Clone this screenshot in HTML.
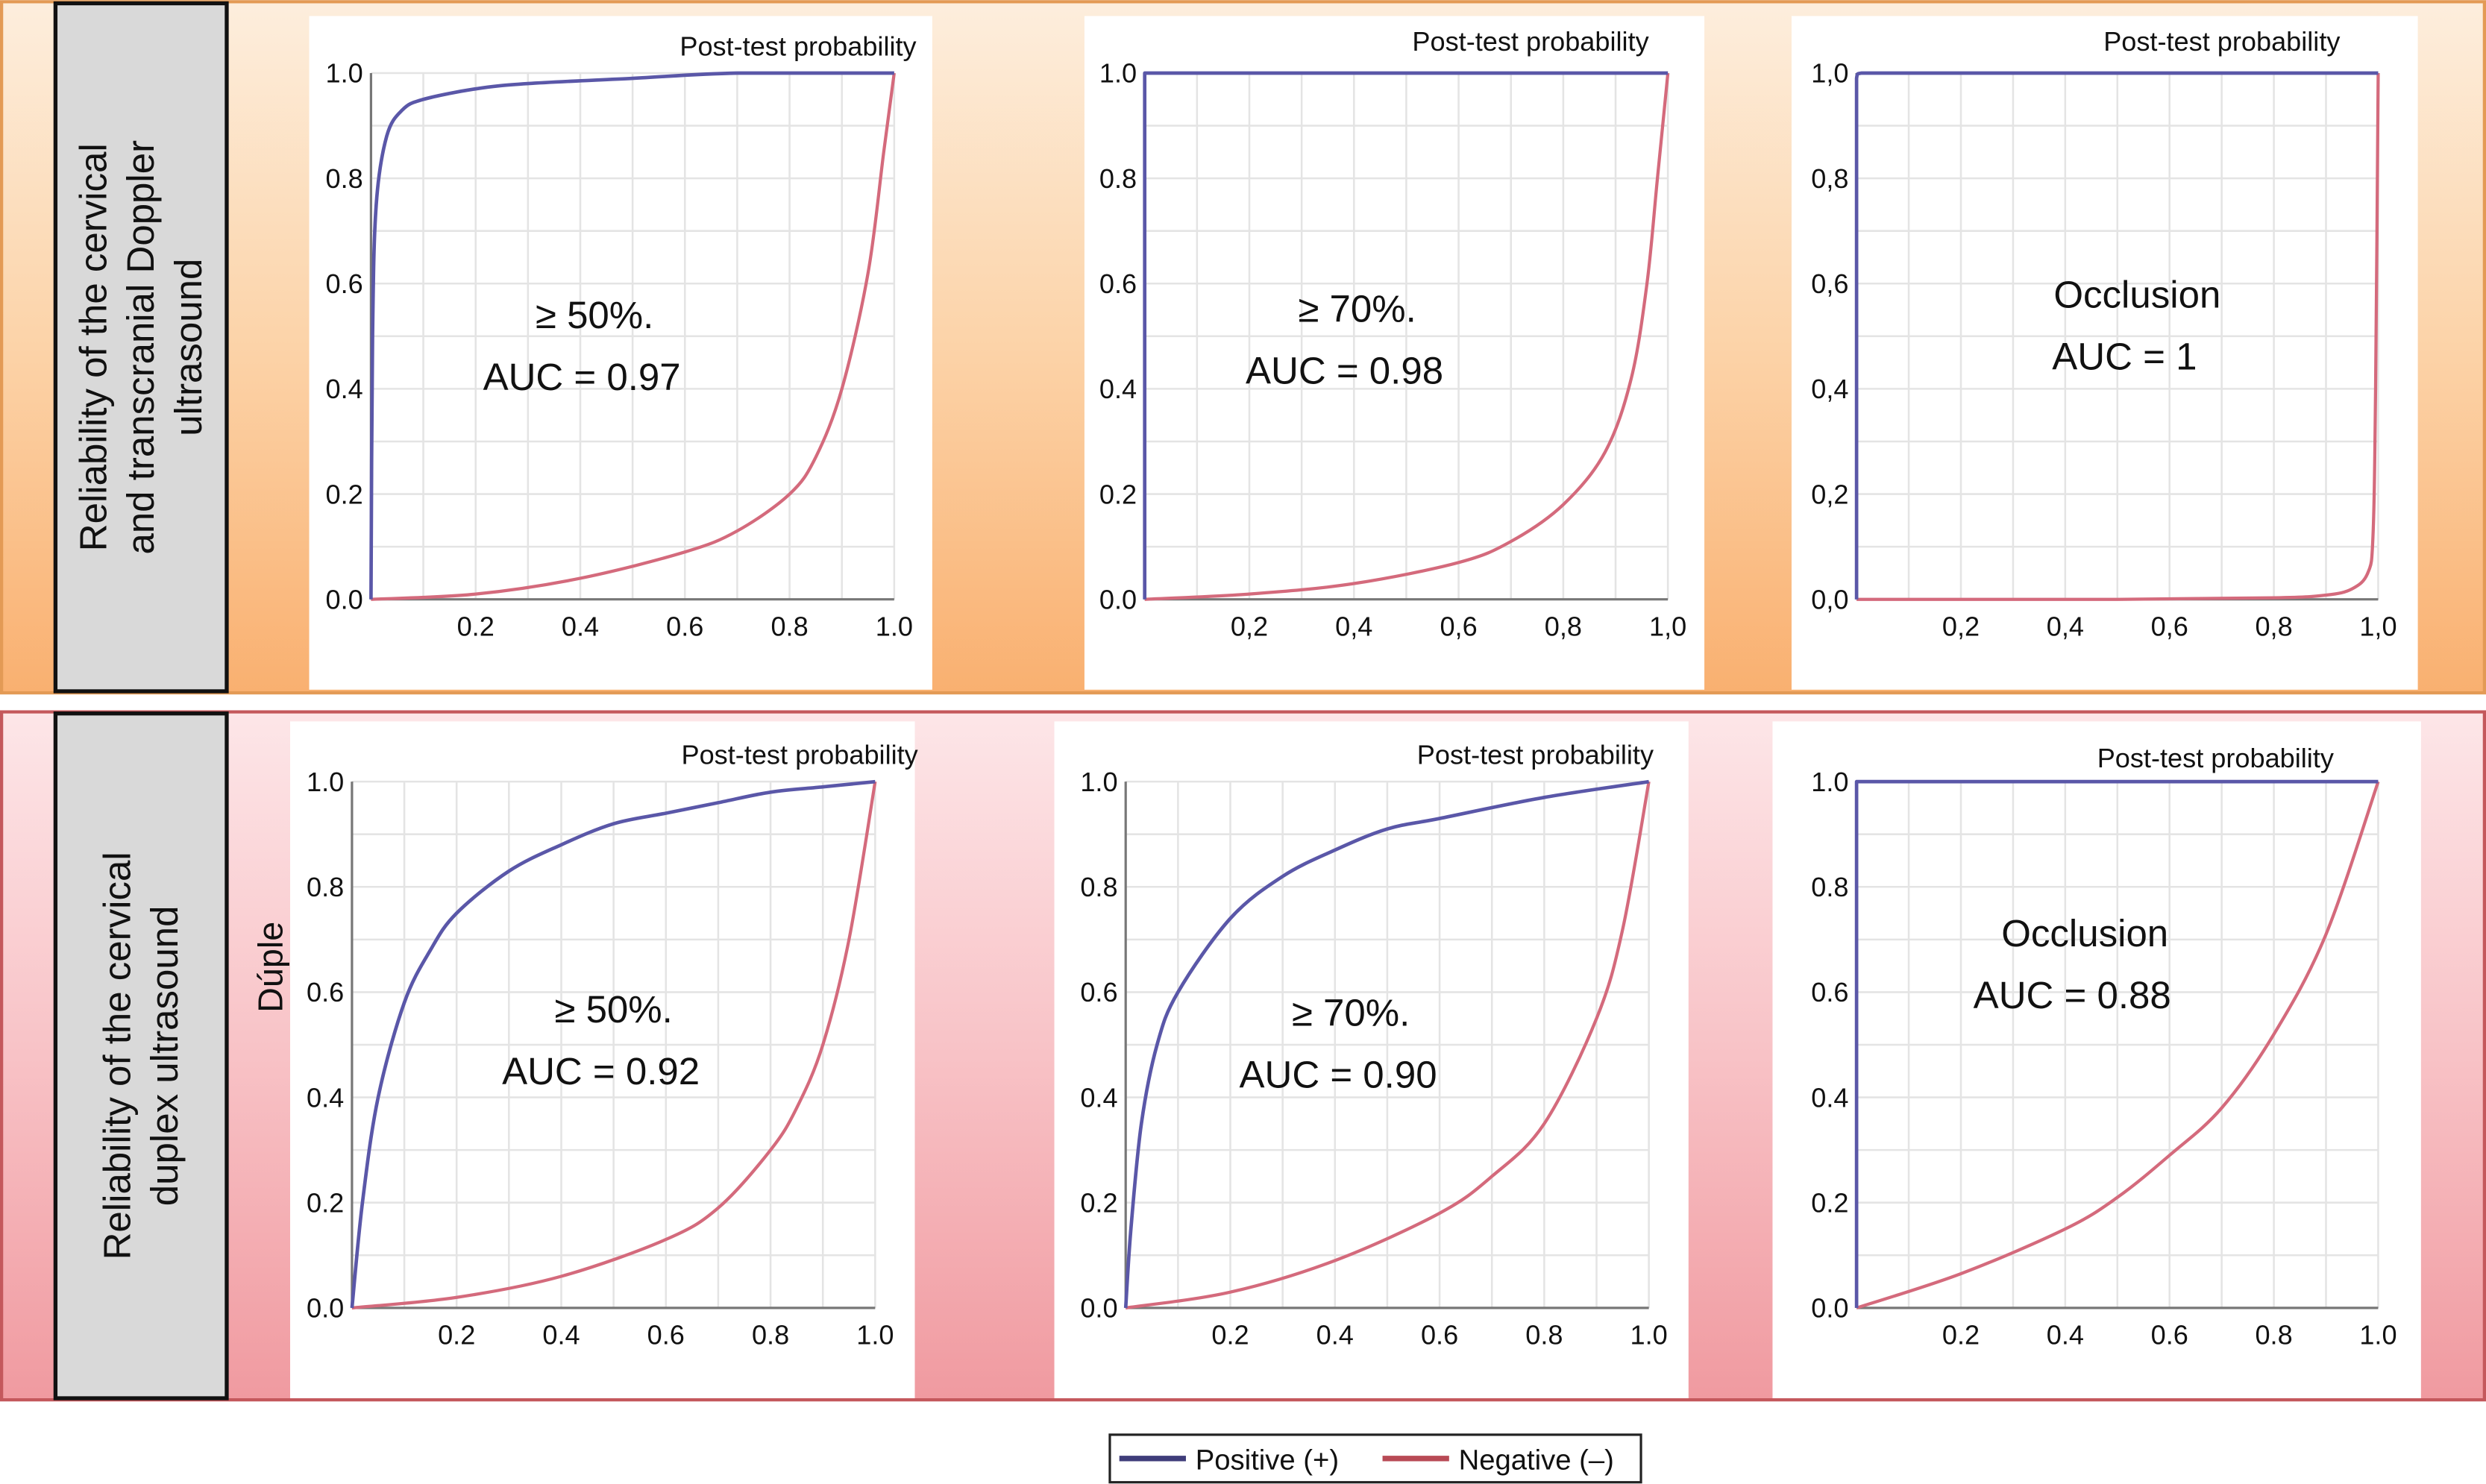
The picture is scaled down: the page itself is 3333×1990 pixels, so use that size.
<!DOCTYPE html>
<html><head><meta charset="utf-8">
<style>
html,body{margin:0;padding:0;background:#fff;}
svg{display:block;}
text{font-family:"Liberation Sans",Arial,sans-serif;}
</style></head>
<body>
<svg id="fig" width="3333" height="1990" viewBox="0 0 1568 936" xmlns="http://www.w3.org/2000/svg">
<defs>
<linearGradient id="gOrange" x1="0" y1="0" x2="0" y2="1">
<stop offset="0" stop-color="#fdeedd"/><stop offset="0.5" stop-color="#fcd3a8"/><stop offset="1" stop-color="#f9b070"/></linearGradient>
<linearGradient id="gPink" x1="0" y1="0" x2="0" y2="1">
<stop offset="0" stop-color="#fde6e8"/><stop offset="0.5" stop-color="#f8c2c6"/><stop offset="1" stop-color="#f09aa0"/></linearGradient>
</defs>
<g id="root"></g>
</svg>
<script>
// ---- Data ----
const panelTitles = ["≥ 50%.", "≥ 70%.", "Occlusion", "≥ 50%.", "≥ 70%.", "Occlusion"];
const aucLabels = ["AUC = 0.97", "AUC = 0.98", "AUC = 1", "AUC = 0.92", "AUC = 0.90", "AUC = 0.88"];
const tickValues = [0, 0.2, 0.4, 0.6, 0.8, 1.0];
const tickLabelsDot = ["0.0", "0.2", "0.4", "0.6", "0.8", "1.0"];
const tickLabelsComma = ["0,0", "0,2", "0,4", "0,6", "0,8", "1,0"];

const posX1 = [0, 0.003, 0.01, 0.03, 0.06, 0.1, 0.2, 0.3, 0.5, 0.7, 1];
const posY1 = [0, 0.5, 0.75, 0.88, 0.93, 0.95, 0.97, 0.98, 0.99, 1, 1];
const negX1 = [0, 0.2, 0.4, 0.6, 0.7, 0.8, 0.85, 0.9, 0.95, 0.98, 1];
const negY1 = [0, 0.01, 0.04, 0.09, 0.13, 0.2, 0.27, 0.4, 0.62, 0.85, 1];

const posX2 = [0, 0, 1];
const posY2 = [0, 1, 1];
const negX2 = [0, 0.2, 0.4, 0.6, 0.7, 0.8, 0.88, 0.93, 0.96, 0.98, 1];
const negY2 = [0, 0.01, 0.03, 0.07, 0.11, 0.18, 0.28, 0.42, 0.6, 0.8, 1];

const posX3 = [0, 0, 0.01, 1];
const posY3 = [0, 0.99, 1, 1];
const negX3 = [0, 0.5, 0.8, 0.9, 0.95, 0.98, 0.99, 0.995, 1];
const negY3 = [0, 0, 0.003, 0.008, 0.02, 0.05, 0.12, 0.4, 1];

const posX4 = [0, 0.02, 0.05, 0.1, 0.15, 0.2, 0.3, 0.4, 0.5, 0.6, 0.7, 0.8, 0.9, 1];
const posY4 = [0, 0.2, 0.4, 0.58, 0.68, 0.75, 0.83, 0.88, 0.92, 0.94, 0.96, 0.98, 0.99, 1];
const negX4 = [0, 0.2, 0.4, 0.6, 0.7, 0.8, 0.85, 0.9, 0.95, 1];
const negY4 = [0, 0.02, 0.06, 0.13, 0.19, 0.3, 0.38, 0.5, 0.7, 1];

const posX5 = [0, 0.01, 0.03, 0.06, 0.1, 0.2, 0.3, 0.4, 0.5, 0.6, 0.8, 1];
const posY5 = [0, 0.15, 0.35, 0.5, 0.6, 0.74, 0.82, 0.87, 0.91, 0.93, 0.97, 1];
const negX5 = [0, 0.2, 0.4, 0.6, 0.7, 0.8, 0.9, 0.95, 1];
const negY5 = [0, 0.03, 0.09, 0.18, 0.25, 0.35, 0.55, 0.72, 1];

const posX6 = [0, 0, 1];
const posY6 = [0, 1, 1];
const negX6 = [0, 0.2, 0.4, 0.5, 0.6, 0.7, 0.8, 0.9, 1];
const negY6 = [0, 0.065, 0.15, 0.21, 0.29, 0.38, 0.52, 0.71, 1];

const seriesPos = [[posX1,posY1],[posX2,posY2],[posX3,posY3],[posX4,posY4],[posX5,posY5],[posX6,posY6]];
const seriesNeg = [[negX1,negY1],[negX2,negY2],[negX3,negY3],[negX4,negY4],[negX5,negY5],[negX6,negY6]];

// ---- Layout ----
const NS = "http://www.w3.org/2000/svg";
const root = document.getElementById("root");
function mk(tag, attrs, parent, txt){
  const e = document.createElementNS(NS, tag);
  for (const k in attrs) e.setAttribute(k, attrs[k]);
  if (txt !== undefined) e.textContent = txt;
  (parent||root).appendChild(e);
  return e;
}
function clamp(v,a,b){const lo=Math.min(a,b),hi=Math.max(a,b);return Math.max(lo,Math.min(hi,v));}
function smoothPath(pts){
  let d = "M"+pts[0][0].toFixed(2)+","+pts[0][1].toFixed(2);
  for(let i=0;i<pts.length-1;i++){
    const p0 = pts[i-1]||pts[i], p1 = pts[i], p2 = pts[i+1], p3 = pts[i+2]||p2;
    const c1x = clamp(p1[0]+(p2[0]-p0[0])/6, p1[0], p2[0]);
    const c1y = clamp(p1[1]+(p2[1]-p0[1])/6, p1[1], p2[1]);
    const c2x = clamp(p2[0]-(p3[0]-p1[0])/6, p1[0], p2[0]);
    const c2y = clamp(p2[1]-(p3[1]-p1[1])/6, p1[1], p2[1]);
    d += ` C${c1x.toFixed(2)},${c1y.toFixed(2)} ${c2x.toFixed(2)},${c2y.toFixed(2)} ${p2[0].toFixed(2)},${p2[1].toFixed(2)}`;
  }
  return d;
}

// bands
const bTop = mk("rect",{x:1,y:1,width:1566,height:436,fill:"url(#gOrange)",stroke:"#e39a55","stroke-width":2});


const bBot = mk("rect",{x:1,y:449,width:1566,height:434,fill:"url(#gPink)",stroke:"#c4585c","stroke-width":2});



// row label boxes
const rowLabels = [
  {y:2,h:434,lines:["Reliability of the cervical","and transcranial Doppler","ultrasound"]},
  {y:450,h:432,lines:["Reliability of the cervical","duplex ultrasound"]}
];
rowLabels.forEach((r,i)=>{
  const box = mk("rect",{x:35,y:r.y,width:108,height:r.h,fill:"#d9d9d9",stroke:"#111","stroke-width":2.5});
  
  
  const cx = 89, cy = r.y + r.h/2;
  const t = mk("text",{transform:`translate(${cx},${cy}) rotate(-90)`,"text-anchor":"middle","font-size":24,fill:"#111"});
  
  
  const n = r.lines.length, lh = 30;
  r.lines.forEach((ln,j)=>{
    mk("tspan",{x:0,y:(j-(n-1)/2)*lh+8},t,ln);
  });
});

// panels
const panels = [
  {px:195,py:10,pw:393,ph:425,x0:234,x1:564,yT:46,yB:378,comma:false,ptx:578,pty:35,ax:375,ay:207},
  {px:684,py:10,pw:391,ph:425,x0:722,x1:1052,yT:46,yB:378,comma:false,xcomma:true,ptx:1040,pty:32,ax:856,ay:203},
  {px:1130,py:10,pw:395,ph:425,x0:1171,x1:1500,yT:46,yB:378,comma:true,ptx:1476,pty:32,ax:1348,ay:194},
  {px:183,py:455,pw:394,ph:427,x0:222,x1:552,yT:493,yB:825,comma:false,ptx:579,pty:482,ax:387,ay:645},
  {px:665,py:455,pw:400,ph:427,x0:710,x1:1040,yT:493,yB:825,comma:false,ptx:1043,pty:482,ax:852,ay:647},
  {px:1118,py:455,pw:409,ph:427,x0:1171,x1:1500,yT:493,yB:825,comma:false,ptx:1472,pty:484,ax:1315,ay:597}
];

panels.forEach((p,i)=>{
  const g = mk("g",{});
  
  
  const bg = mk("rect",{x:p.px,y:p.py,width:p.pw,height:p.ph,fill:"#fff"},g);
  
  
  const sx = v => p.x0 + v*(p.x1-p.x0);
  const sy = v => p.yB - v*(p.yB-p.yT);
  for(let k=1;k<=10;k++){
    const v=k/10;
    const gv = mk("line",{x1:sx(v),y1:p.yT,x2:sx(v),y2:p.yB,stroke:"#e4e4e4","stroke-width":1.2},g);
    
    
    const gh = mk("line",{x1:p.x0,y1:sy(v),x2:p.x1,y2:sy(v),stroke:"#e4e4e4","stroke-width":1.2},g);
    
    
  }
  const ya = mk("line",{x1:p.x0,y1:p.yT,x2:p.x0,y2:p.yB,stroke:"#777","stroke-width":1.5},g);
  
  
  const xa = mk("line",{x1:p.x0,y1:p.yB,x2:p.x1,y2:p.yB,stroke:"#777","stroke-width":1.5},g);
  
  
  const yl = p.comma ? tickLabelsComma : tickLabelsDot;
  const xl = (p.comma||p.xcomma) ? tickLabelsComma : tickLabelsDot;
  tickValues.forEach((v,k)=>{
    const t = mk("text",{x:p.x0-5,y:sy(v)+6,"text-anchor":"end","font-size":17,fill:"#111"},g,yl[k]);
    
    
    if(k>0){
      const tx = mk("text",{x:sx(v),y:p.yB+23,"text-anchor":"middle","font-size":17,fill:"#111"},g,xl[k]);
      
      
    }
  });
  const pt = mk("text",{x:p.ptx,y:p.pty,"text-anchor":"end","font-size":17,fill:"#111"},g,"Post-test probability");
  
  
  const [nx,ny] = seriesNeg[i];
  const negPts = nx.map((x,k)=>[sx(x), sy(ny[k])]);
  const nl = mk("path",{d:smoothPath(negPts),fill:"none",stroke:"#d46a7c","stroke-width":2,"stroke-linejoin":"round"},g);
  
  
  const [qx,qy] = seriesPos[i];
  const posPts = qx.map((x,k)=>[sx(x), sy(qy[k])]);
  const pl = mk("path",{d:smoothPath(posPts),fill:"none",stroke:"#5a57a8","stroke-width":2.2,"stroke-linejoin":"round"},g);
  
  
  const a1 = mk("text",{x:p.ax,y:p.ay,"text-anchor":"middle","font-size":24,fill:"#111"},g,panelTitles[i]);
  
  
  const a2 = mk("text",{x:p.ax-8,y:p.ay+39,"text-anchor":"middle","font-size":24,fill:"#111"},g,aucLabels[i]);
  
  
});

const dup = mk("text",{transform:"translate(178,610) rotate(-90)","text-anchor":"middle","font-size":22,fill:"#111"},root,"Dúple");



const lg = mk("g",{});


const lb = mk("rect",{x:700,y:905,width:335,height:30,fill:"#fff",stroke:"#222","stroke-width":1.5},lg);


const l1 = mk("line",{x1:706,y1:920,x2:748,y2:920,stroke:"#3f3d7a","stroke-width":3.5},lg);


const t1 = mk("text",{x:754,y:927,"font-size":18,fill:"#111"},lg,"Positive (+)");


const l2 = mk("line",{x1:872,y1:920,x2:914,y2:920,stroke:"#b84a55","stroke-width":3.5},lg);


const t2 = mk("text",{x:920,y:927,"font-size":18,fill:"#111"},lg,"Negative (–)");


</script>
</body></html>
